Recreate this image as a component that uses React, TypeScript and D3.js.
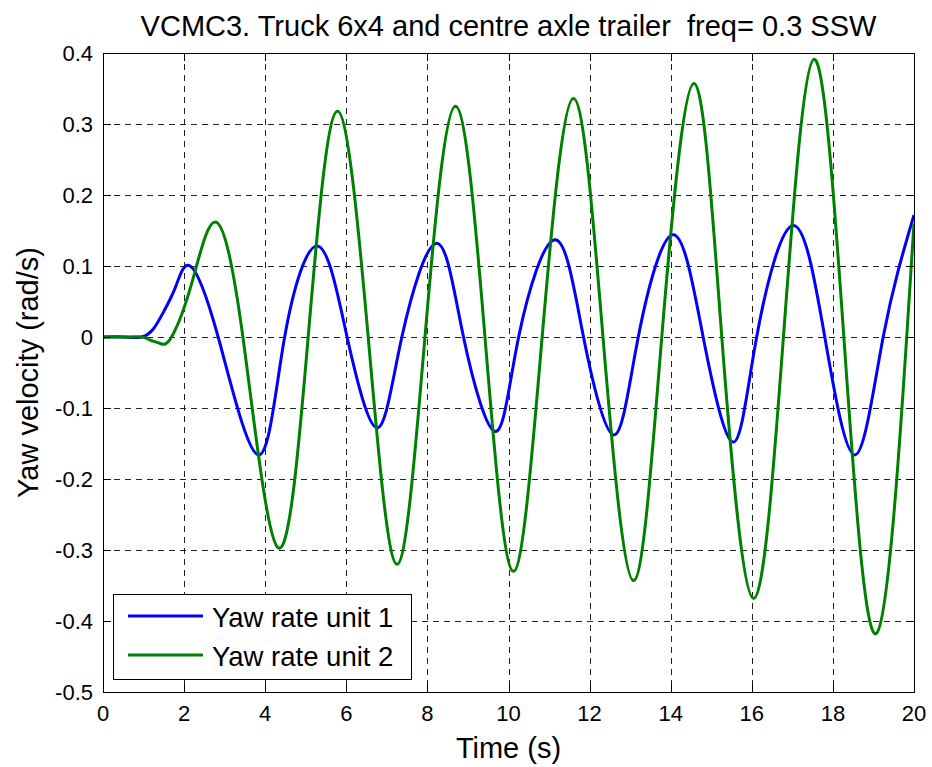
import { useEffect, useRef } from 'react';
import * as d3 from 'd3';

// values (time in s, yaw velocity in rad/s)
const unit1Time = [0, 0.5, 0.95, 1.25, 1.5, 1.8, 2.15, 2.84, 3.83, 4.48, 5.3, 6.02, 6.76, 7.37, 8.23, 8.89, 9.68, 10.25, 11.15, 11.85, 12.6, 13.2, 14.06, 14.8, 15.54, 16.12, 17.02, 17.8, 18.55, 19.24, 20];
const unit1Yaw = [0, 0, 0, 0.012, 0.036, 0.072, 0.1, 0, -0.166, 0, 0.128, 0, -0.128, 0, 0.132, 0, -0.133, 0, 0.137, 0, -0.138, 0, 0.144, 0, -0.148, 0, 0.157, 0, -0.166, 0, 0.172];

const unit2Time = [0, 0.5, 0.95, 1.15, 1.4, 1.69, 2.2, 2.77, 3.45, 4.32, 5.06, 5.78, 6.54, 7.25, 7.94, 8.69, 9.42, 10.12, 10.83, 11.6, 12.33, 13.08, 13.78, 14.57, 15.26, 16.04, 16.78, 17.53, 18.27, 19.08, 19.82, 20];
const unit2Yaw = [0, 0, 0, -0.004, -0.009, 0, 0.078, 0.162, 0, -0.297, 0, 0.318, 0, -0.32, 0, 0.325, 0, -0.33, 0, 0.336, 0, -0.343, 0, 0.357, 0, -0.368, 0, 0.391, 0, -0.417, 0, 0.16];

const xTicks = [0, 2, 4, 6, 8, 10, 12, 14, 16, 18, 20];
const yTicks = [-0.5, -0.4, -0.3, -0.2, -0.1, 0, 0.1, 0.2, 0.3, 0.4];

const seriesNames = ['Yaw rate unit 1', 'Yaw rate unit 2'];
const seriesColors = ['#0000ff', '#008000'];

const W = 932;
const H = 767;
const FONT = "'Liberation Sans', Arial, Helvetica, sans-serif";

const App = () => {
    const svgRef = useRef(null);

    useEffect(() => {
        const svg = d3.select(svgRef.current);
        svg.selectAll('*').remove();

        const left = 103, right = 914, top = 53, bottom = 692;
        const x = d3.scaleLinear().domain([0, 20]).range([left, right]);
        const y = d3.scaleLinear().domain([-0.5, 0.4]).range([bottom, top]);

        svg.append('rect').attr('width', W).attr('height', H).attr('fill', '#fff');

        // dashed grid
        const grid = svg.append('g').attr('stroke', '#222').attr('stroke-width', 1).attr('stroke-dasharray', '6,5');
        grid.selectAll('.gx')
            .data(xTicks.slice(1, -1))
            .enter()
            .append('line')
            .attr('x1', d => Math.round(x(d)) + 0.5).attr('x2', d => Math.round(x(d)) + 0.5)
            .attr('y1', top).attr('y2', bottom);
        grid.selectAll('.gy')
            .data(yTicks.slice(1, -1))
            .enter()
            .append('line')
            .attr('y1', d => Math.round(y(d)) + 0.5).attr('y2', d => Math.round(y(d)) + 0.5)
            .attr('x1', left).attr('x2', right);

        // lines
        const data = [
            unit1Time.map((t, i) => [t, unit1Yaw[i]]),
            unit2Time.map((t, i) => [t, unit2Yaw[i]]),
        ];
        const line = d3.line()
            .x(d => x(d[0]))
            .y(d => y(d[1]))
            .curve(d3.curveNatural);

        svg.append('defs').append('clipPath').attr('id', 'plotclip')
            .append('rect').attr('x', left).attr('y', top).attr('width', right - left).attr('height', bottom - top);

        svg.append('g').attr('clip-path', 'url(#plotclip)')
            .selectAll('path')
            .data(data)
            .enter()
            .append('path')
            .attr('d', d => line(d))
            .attr('fill', 'none')
            .attr('stroke', (d, i) => seriesColors[i])
            .attr('stroke-width', 3)
            .attr('stroke-linejoin', 'round');

        // axes box with inward ticks on all four sides
        const ax = svg.append('g').attr('stroke', '#000').attr('stroke-width', 1);
        ax.append('rect')
            .attr('x', left + 0.5).attr('y', top + 0.5)
            .attr('width', right - left).attr('height', bottom - top)
            .attr('fill', 'none');
        const tl = 8;
        xTicks.forEach(t => {
            const px = Math.round(x(t)) + 0.5;
            ax.append('line').attr('x1', px).attr('x2', px).attr('y1', bottom).attr('y2', bottom - tl);
            ax.append('line').attr('x1', px).attr('x2', px).attr('y1', top).attr('y2', top + tl);
        });
        yTicks.forEach(v => {
            const py = Math.round(y(v)) + 0.5;
            ax.append('line').attr('y1', py).attr('y2', py).attr('x1', left).attr('x2', left + tl);
            ax.append('line').attr('y1', py).attr('y2', py).attr('x1', right).attr('x2', right - tl);
        });

        // tick labels
        svg.append('g')
            .selectAll('text')
            .data(xTicks)
            .enter()
            .append('text')
            .attr('x', d => x(d))
            .attr('y', bottom + 29)
            .attr('text-anchor', 'middle')
            .style('font-family', FONT)
            .style('font-size', '22px')
            .text(d => String(d));

        svg.append('g')
            .selectAll('text')
            .data(yTicks)
            .enter()
            .append('text')
            .attr('x', left - 10)
            .attr('y', d => y(d) + 8)
            .attr('text-anchor', 'end')
            .style('font-family', FONT)
            .style('font-size', '22px')
            .text(d => (d === 0 ? '0' : d.toFixed(1)));

        // titles
        svg.append('text')
            .attr('x', (left + right) / 2)
            .attr('y', 36)
            .attr('text-anchor', 'middle')
            .style('font-family', FONT)
            .style('font-size', '29px')
            .style('white-space', 'pre')
            .text('VCMC3. Truck 6x4 and centre axle trailer  freq= 0.3 SSW');

        svg.append('text')
            .attr('x', (left + right) / 2)
            .attr('y', 758)
            .attr('text-anchor', 'middle')
            .style('font-family', FONT)
            .style('font-size', '29px')
            .text('Time (s)');

        svg.append('text')
            .attr('transform', `translate(38, ${(top + bottom) / 2}) rotate(-90)`)
            .attr('text-anchor', 'middle')
            .style('font-family', FONT)
            .style('font-size', '29px')
            .text('Yaw velocity (rad/s)');

        // legend
        const legend = svg.append('g').attr('transform', 'translate(113, 594)');
        legend.append('rect')
            .attr('x', 0.5).attr('y', 0.5)
            .attr('width', 298).attr('height', 85)
            .attr('fill', '#fff')
            .attr('stroke', '#000')
            .attr('stroke-width', 1);
        seriesNames.forEach((name, i) => {
            const row = legend.append('g').attr('transform', `translate(0, ${22 + i * 39})`);
            row.append('line')
                .attr('x1', 15).attr('x2', 90)
                .attr('y1', 0).attr('y2', 0)
                .attr('stroke', seriesColors[i])
                .attr('stroke-width', 3);
            row.append('text')
                .attr('x', 99)
                .attr('y', 11)
                .style('font-family', FONT)
                .style('font-size', '27.5px')
                .text(name);
        });
    }, []);

    return (
        <svg ref={svgRef} width={W} height={H} style={{ position: 'absolute', left: 0, top: 0 }}></svg>
    );
};

export default App;
